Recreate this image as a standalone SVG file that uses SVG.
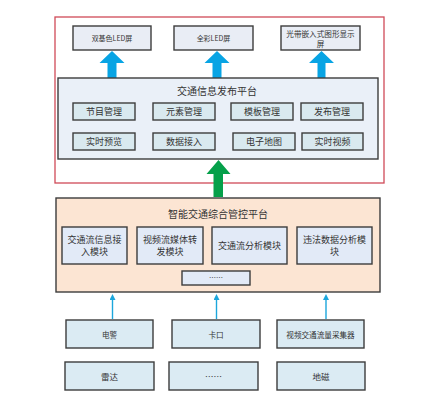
<svg xmlns="http://www.w3.org/2000/svg" width="431" height="405" viewBox="0 0 431 405">
<defs>
<style>
text{font-family:"Noto Sans CJK SC","Liberation Sans",sans-serif;fill:#333;text-anchor:middle;dominant-baseline:central}
.bx{stroke:#3c3c3c;stroke-width:1.4}
.top{fill:#e9edf5}
.inner{fill:#d9e9ef}
.mod{fill:#e2eaf7}
.src{fill:#dbebf3}
.t7{font-size:7px}
.t75{font-size:7.6px}
.t85{font-size:8.5px}
.t9{font-size:9px}
.t10{font-size:10px}
.barrow{fill:#08a4e4}
.thin{stroke:#1ca6dc;stroke-width:1.4;fill:none}
</style>
<marker id="ah" markerWidth="6" markerHeight="6" refX="3" refY="3" orient="auto" markerUnits="userSpaceOnUse">
<path d="M0,6 L3,0 L6,6 Z" fill="#1ca6dc" transform="rotate(90 3 3)"/>
</marker>
</defs>
<rect width="431" height="405" fill="#fff"/>

<g id="publish-area">
<rect x="55" y="17" width="329" height="166" fill="#fff" stroke="#d04a58" stroke-width="1.3"/>
</g>

<g id="screen-dual">
<rect class="bx top" x="73" y="26" width="78" height="24"/>
<text class="t7" x="112" y="38">双基色LED屏</text>
</g>
<g id="screen-full">
<rect class="bx top" x="174" y="26" width="79" height="24"/>
<text class="t7" x="213.5" y="38">全彩LED屏</text>
</g>
<g id="screen-light">
<rect class="bx top" x="281" y="26" width="79" height="24"/>
<text class="t75" x="320.5" y="33.5">光带嵌入式图形显示</text>
<text class="t75" x="320.5" y="43.5">屏</text>
</g>

<g id="connectors">
<polygon class="barrow" points="112,51 124.5,63 116.5,63 116.5,78 107.5,78 107.5,63 99.5,63"/>
<polygon class="barrow" points="217,51 229.5,63 221.5,63 221.5,78 212.5,78 212.5,63 204.5,63"/>
<polygon class="barrow" points="321.5,51 334,63 325.5,63 325.5,78 317.5,78 317.5,63 309,63"/>
<polygon fill="#05a04a" points="218.5,160 230.5,174 223,174 223,197 213.5,197 213.5,174 206.5,174"/>
<line class="thin" x1="112.5" y1="319" x2="112.5" y2="297" marker-end="url(#ah)"/>
<line class="thin" x1="216.5" y1="319" x2="216.5" y2="297" marker-end="url(#ah)"/>
<line class="thin" x1="326" y1="319" x2="326" y2="297" marker-end="url(#ah)"/>
</g>

<g id="info-platform">
<rect class="bx" x="58" y="78" width="320" height="81" fill="#eaf0f8"/>
<text class="t10" x="217" y="90">交通信息发布平台</text>
</g>
<g id="m-program"><rect class="bx inner" x="73" y="103" width="62" height="17"/><text class="t9" x="104" y="111.5">节目管理</text></g>
<g id="m-element"><rect class="bx inner" x="153" y="103" width="62" height="17"/><text class="t9" x="184" y="111.5">元素管理</text></g>
<g id="m-template"><rect class="bx inner" x="231" y="103" width="62" height="17"/><text class="t9" x="262" y="111.5">模板管理</text></g>
<g id="m-release"><rect class="bx inner" x="301" y="103" width="62" height="17"/><text class="t9" x="332" y="111.5">发布管理</text></g>
<g id="m-preview"><rect class="bx inner" x="73" y="133" width="62" height="17"/><text class="t9" x="104" y="141.5">实时预览</text></g>
<g id="m-data"><rect class="bx inner" x="153" y="133" width="62" height="17"/><text class="t9" x="184" y="141.5">数据接入</text></g>
<g id="m-map"><rect class="bx inner" x="233" y="133" width="62" height="17"/><text class="t9" x="264" y="141.5">电子地图</text></g>
<g id="m-video"><rect class="bx inner" x="302" y="133" width="61" height="17"/><text class="t9" x="332.5" y="141.5">实时视频</text></g>

<g id="control-platform">
<rect class="bx" x="56" y="198" width="324" height="94" fill="#fce5d3"/>
<text class="t10" x="218" y="213">智能交通综合管控平台</text>
</g>
<g id="mod-flow-in"><rect class="bx mod" x="62" y="227" width="65" height="37"/><text class="t9" x="94.5" y="239">交通流信息接</text><text class="t9" x="94.5" y="251">入模块</text></g>
<g id="mod-video"><rect class="bx mod" x="137" y="227" width="66" height="37"/><text class="t9" x="170" y="239">视频流媒体转</text><text class="t9" x="170" y="251">发模块</text></g>
<g id="mod-analysis"><rect class="bx mod" x="212" y="227" width="75" height="37"/><text class="t9" x="249.5" y="245.5">交通流分析模块</text></g>
<g id="mod-violation"><rect class="bx mod" x="297" y="227" width="75" height="37"/><text class="t9" x="334.5" y="239">违法数据分析模</text><text class="t9" x="334.5" y="251">块</text></g>
<g id="mod-more"><rect class="bx mod" x="182" y="271" width="68" height="14"/><text class="t7" x="216" y="277">……</text></g>

<g id="src-police"><rect class="bx src" x="66" y="320" width="87" height="28"/><text class="t75" x="109.5" y="334">电警</text></g>
<g id="src-checkpoint"><rect class="bx src" x="172" y="320" width="88" height="28"/><text class="t75" x="216" y="334">卡口</text></g>
<g id="src-collector"><rect class="bx src" x="277" y="320" width="87" height="28"/><text class="t75" x="320.5" y="334">视频交通流量采集器</text></g>
<g id="src-radar"><rect class="bx src" x="65" y="362" width="89" height="28"/><text class="t85" x="109.5" y="376">雷达</text></g>
<g id="src-more"><rect class="bx src" x="169" y="362" width="89" height="28"/><text class="t85" x="213.5" y="376">……</text></g>
<g id="src-magnetic"><rect class="bx src" x="277" y="362" width="88" height="28"/><text class="t85" x="321" y="376">地磁</text></g>
</svg>
